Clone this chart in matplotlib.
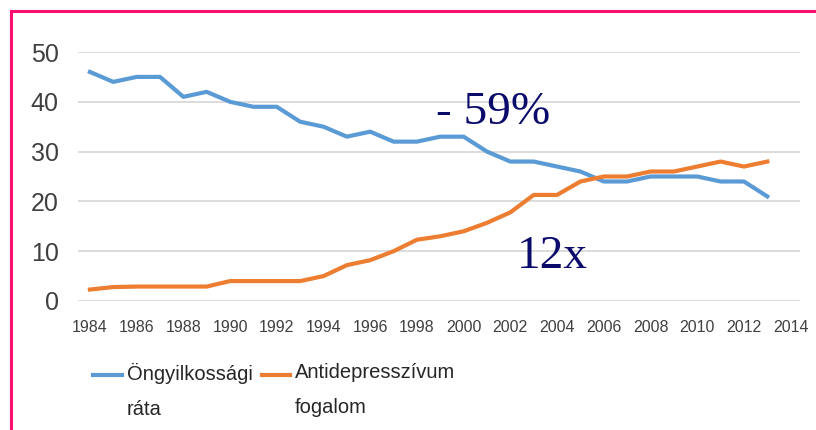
import matplotlib
matplotlib.use("Agg")
import matplotlib.pyplot as plt
from matplotlib.lines import Line2D

years = list(range(1984, 2014))
suicide_rate = [46, 44, 45, 45, 41, 42, 40, 39, 39, 36, 35, 33, 34, 32, 32,
                33, 33, 30, 28, 28, 27, 26, 24, 24, 25, 25, 25, 24, 24, 21]
antidepressant = [2.3, 2.8, 2.9, 2.9, 2.9, 2.9, 4, 4, 4, 4, 5, 7.2, 8.2, 10, 12.3,
                  13, 14, 15.7, 17.8, 21.3, 21.3, 24, 25, 25, 26, 26, 27, 28, 27, 28]
xticks = list(range(1984, 2015, 2))
yticks = [0, 10, 20, 30, 40, 50]
label_blue = "Öngyilkossági\nráta"
label_orange = "Antidepresszívum\nfogalom"

blue = "#5B9BD5"
orange = "#ED7D31"
navy = "#0B0B6B"
pink = "#FF1070"
sans = ["Liberation Sans", "DejaVu Sans"]
serif = ["Liberation Serif", "DejaVu Serif"]

fig = plt.figure(figsize=(8.16, 4.30), dpi=100)
ax = fig.add_axes([78/816, 1 - 301/430, (800-78)/816, (301-52)/430])

ax.plot(years, suicide_rate, color=blue, lw=3, solid_joinstyle="round")
ax.plot(years, antidepressant, color=orange, lw=3, solid_joinstyle="round")

ax.set_xlim(1983.49, 2014.4)
ax.set_ylim(0, 50)
ax.set_xticks(xticks)
ax.set_yticks(yticks)
ax.grid(axis="y", color="#d9d9d9", lw=1.3)
ax.set_axisbelow(True)
for s in ax.spines.values():
    s.set_visible(False)
ax.tick_params(length=0)
ax.tick_params(axis="y", pad=14, labelsize=18, labelcolor="#404040")
ax.tick_params(axis="x", pad=14, labelsize=11.5, labelcolor="#404040")
for lab in ax.get_xticklabels() + ax.get_yticklabels():
    lab.set_family(sans)

ax.text(1998.8, 35.6, "- 59%", fontsize=34, color=navy, family=serif,
        ha="left", va="baseline")
ax.text(2002.3, 6.6, "12x", fontsize=34, color=navy, family=serif,
        ha="left", va="baseline")

# legend drawn by hand so the handle sits on the first text line
ly = 1 - 375/430
for x0, x1, c, lab in [(93, 122, blue, label_blue), (262, 290, orange, label_orange)]:
    fig.add_artist(Line2D([x0/816, x1/816], [ly, ly], color=c, lw=3,
                          transform=fig.transFigure))
    fig.text((x1 + 5)/816, ly + 12/430, lab, fontsize=14.5, color="#262626",
             family=sans, ha="left", va="top", linespacing=2.05)

# pink frame on top and left
fig.add_artist(Line2D([11/816, 1], [1 - 10.5/430, 1 - 10.5/430], color=pink, lw=2.2,
                      transform=fig.transFigure))
fig.add_artist(Line2D([11/816, 11/816], [0, 1 - 10.5/430], color=pink, lw=2.2,
                      transform=fig.transFigure))

fig.savefig("out.png", dpi=100)
